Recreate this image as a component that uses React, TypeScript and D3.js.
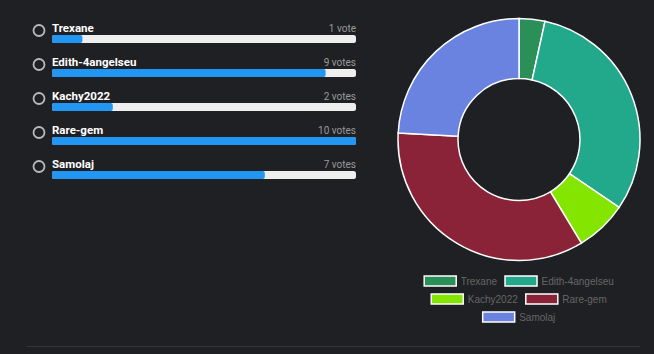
import React from "react";
import * as d3 from "d3";

// poll options and their votes
const names = ["Trexane", "Edith-4angelseu", "Kachy2022", "Rare-gem", "Samolaj"];
const votes = [1, 9, 2, 10, 7];
const colors = ["#2b8f58", "#22a88b", "#84e600", "#8a2338", "#6b83e0"];
// legend rows under the donut
const legendRows = [[0, 1], [2, 3], [4]];

const W = 654;
const H = 354;

function textWidth(s: string, font: string) {
  const c = document.createElement("canvas").getContext("2d")!;
  c.font = font;
  return c.measureText(s).width;
}

export default function App() {
  // bars
  const x = d3.scaleLinear().domain([0, d3.max(votes)!]).range([52, 356]);
  const y = d3.scaleBand<number>().domain(d3.range(names.length)).range([14, 184]);

  // donut
  const cx = 519;
  const cy = 139.5;
  const pie = d3.pie<number>().sort(null).value((d) => d);
  const arcs = pie(votes);
  const arc = d3.arc<d3.PieArcDatum<number>>().innerRadius(61).outerRadius(121);

  const legendFont = "10px 'Liberation Sans', Arial, sans-serif";
  const boxW = 32;
  const gap = 4.5;
  const pad = 8;

  return (
    <div style={{ background: "#1f2023", width: W, height: H, position: "absolute", left: 0, top: 0 }}>
      <svg width={W} height={H} style={{ display: "block" }}>
        <rect width={W} height={H} fill="#1f2023" />
        {names.map((n, i) => {
          const y0 = y(i)!;
          return (
            <g key={n}>
              <circle cx={39} cy={y0 + 16.5} r={5.5} fill="none" stroke="#b9b9b9" strokeWidth={1.8} />
              <text x={52} y={y0 + 18} fill="#ffffff" fontFamily="Roboto, sans-serif" fontWeight={700} fontSize={11.5}>
                {n}
              </text>
              <text x={356} y={y0 + 18} fill="#9a9a9a" textAnchor="end" fontFamily="Roboto, sans-serif" fontSize={10}>
                {votes[i]} {votes[i] === 1 ? "vote" : "votes"}
              </text>
              <rect x={x(0)} y={y0 + 21} width={x(d3.max(votes)!) - x(0)} height={8} rx={2.5} fill="#eeeeee" />
              <rect x={x(0)} y={y0 + 21} width={x(votes[i]) - x(0)} height={8} rx={2} fill="#2196f3" />
            </g>
          );
        })}

        <g transform={`translate(${cx},${cy})`}>
          {arcs.map((a, i) => (
            <path key={i} d={arc(a)!} fill={colors[i]} stroke="#ffffff" strokeWidth={1.5} />
          ))}
        </g>

        {legendRows.map((row, r) => {
          const widths = row.map((i) => boxW + gap + textWidth(names[i], legendFont));
          const total = d3.sum(widths) + pad * (row.length - 1);
          let lx = cx - total / 2;
          const ly = 281 + r * 18;
          return (
            <g key={r}>
              {row.map((i, k) => {
                const sx = lx;
                lx += widths[k] + pad;
                return (
                  <g key={i}>
                    <rect x={sx} y={ly - 5} width={boxW} height={10} fill={colors[i]} stroke="#ffffff" strokeWidth={1.5} />
                    <text x={sx + boxW + gap} y={ly + 3.5} fill="#666666" style={{ font: legendFont }}>
                      {names[i]}
                    </text>
                  </g>
                );
              })}
            </g>
          );
        })}

        <line x1={27} x2={640} y1={346.5} y2={346.5} stroke="#35363a" strokeWidth={1} />
      </svg>
    </div>
  );
}
